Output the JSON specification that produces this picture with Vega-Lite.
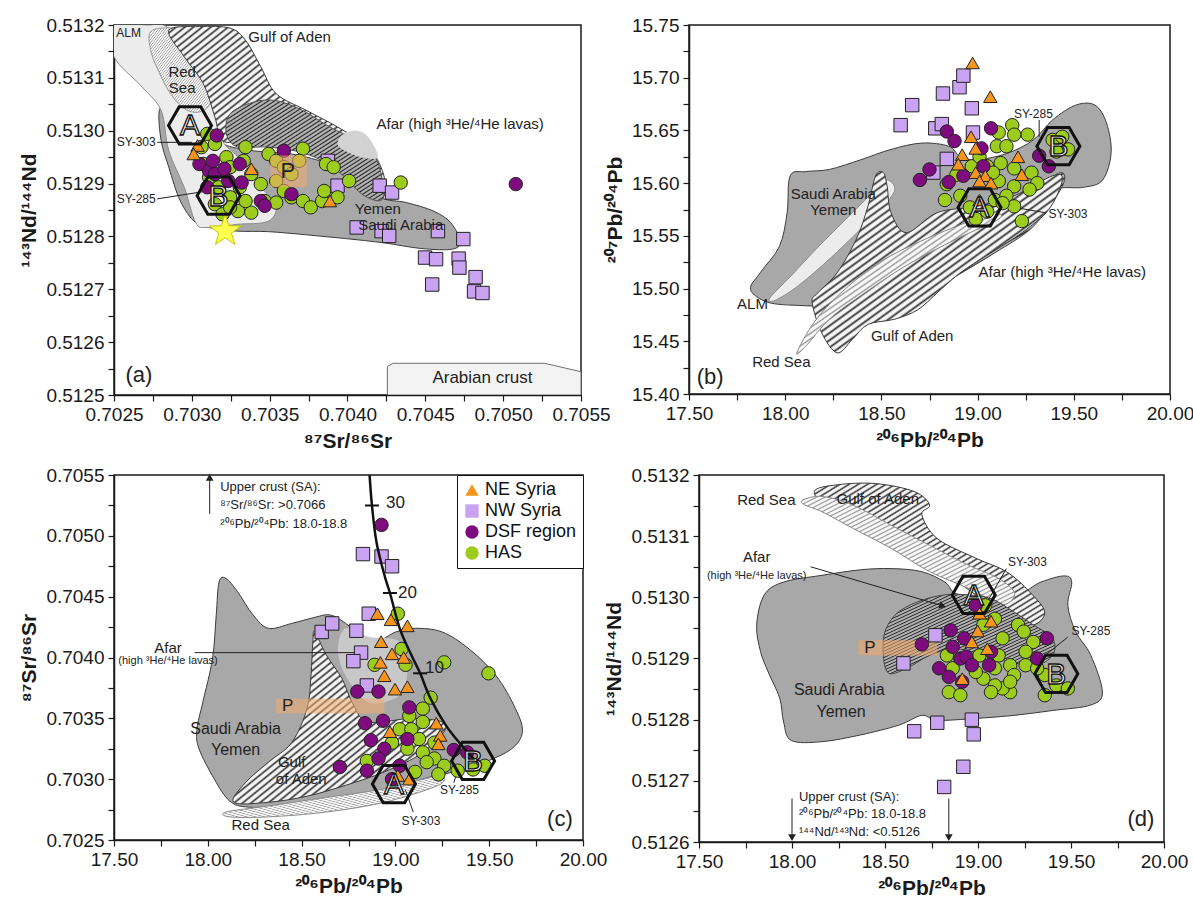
{
"$schema":"https://vega.github.io/schema/vega-lite/v6.json",
"background":"white",
"padding":{"left":18,"top":15,"right":5,"bottom":5},
"params":[
{"name":"hatchDark","value":{"gradient":"linear","x1":0,"y1":0,"x2":1,"y2":1,"stops":[{"offset":0,"color":"#333"},{"offset":0.006,"color":"#f4f4f4"},{"offset":0.014,"color":"#f4f4f4"},{"offset":0.02,"color":"#333"},{"offset":0.026,"color":"#f4f4f4"},{"offset":0.034,"color":"#f4f4f4"},{"offset":0.04,"color":"#333"},{"offset":0.046,"color":"#f4f4f4"},{"offset":0.054,"color":"#f4f4f4"},{"offset":0.06,"color":"#333"},{"offset":0.066,"color":"#f4f4f4"},{"offset":0.074,"color":"#f4f4f4"},{"offset":0.08,"color":"#333"},{"offset":0.086,"color":"#f4f4f4"},{"offset":0.094,"color":"#f4f4f4"},{"offset":0.1,"color":"#333"},{"offset":0.106,"color":"#f4f4f4"},{"offset":0.114,"color":"#f4f4f4"},{"offset":0.12,"color":"#333"},{"offset":0.126,"color":"#f4f4f4"},{"offset":0.134,"color":"#f4f4f4"},{"offset":0.14,"color":"#333"},{"offset":0.146,"color":"#f4f4f4"},{"offset":0.154,"color":"#f4f4f4"},{"offset":0.16,"color":"#333"},{"offset":0.166,"color":"#f4f4f4"},{"offset":0.174,"color":"#f4f4f4"},{"offset":0.18,"color":"#333"},{"offset":0.186,"color":"#f4f4f4"},{"offset":0.194,"color":"#f4f4f4"},{"offset":0.2,"color":"#333"},{"offset":0.206,"color":"#f4f4f4"},{"offset":0.214,"color":"#f4f4f4"},{"offset":0.22,"color":"#333"},{"offset":0.226,"color":"#f4f4f4"},{"offset":0.234,"color":"#f4f4f4"},{"offset":0.24,"color":"#333"},{"offset":0.246,"color":"#f4f4f4"},{"offset":0.254,"color":"#f4f4f4"},{"offset":0.26,"color":"#333"},{"offset":0.266,"color":"#f4f4f4"},{"offset":0.274,"color":"#f4f4f4"},{"offset":0.28,"color":"#333"},{"offset":0.286,"color":"#f4f4f4"},{"offset":0.294,"color":"#f4f4f4"},{"offset":0.3,"color":"#333"},{"offset":0.306,"color":"#f4f4f4"},{"offset":0.314,"color":"#f4f4f4"},{"offset":0.32,"color":"#333"},{"offset":0.326,"color":"#f4f4f4"},{"offset":0.334,"color":"#f4f4f4"},{"offset":0.34,"color":"#333"},{"offset":0.346,"color":"#f4f4f4"},{"offset":0.354,"color":"#f4f4f4"},{"offset":0.36,"color":"#333"},{"offset":0.366,"color":"#f4f4f4"},{"offset":0.374,"color":"#f4f4f4"},{"offset":0.38,"color":"#333"},{"offset":0.386,"color":"#f4f4f4"},{"offset":0.394,"color":"#f4f4f4"},{"offset":0.4,"color":"#333"},{"offset":0.406,"color":"#f4f4f4"},{"offset":0.414,"color":"#f4f4f4"},{"offset":0.42,"color":"#333"},{"offset":0.426,"color":"#f4f4f4"},{"offset":0.434,"color":"#f4f4f4"},{"offset":0.44,"color":"#333"},{"offset":0.446,"color":"#f4f4f4"},{"offset":0.454,"color":"#f4f4f4"},{"offset":0.46,"color":"#333"},{"offset":0.466,"color":"#f4f4f4"},{"offset":0.474,"color":"#f4f4f4"},{"offset":0.48,"color":"#333"},{"offset":0.486,"color":"#f4f4f4"},{"offset":0.494,"color":"#f4f4f4"},{"offset":0.5,"color":"#333"},{"offset":0.506,"color":"#f4f4f4"},{"offset":0.514,"color":"#f4f4f4"},{"offset":0.52,"color":"#333"},{"offset":0.526,"color":"#f4f4f4"},{"offset":0.534,"color":"#f4f4f4"},{"offset":0.54,"color":"#333"},{"offset":0.546,"color":"#f4f4f4"},{"offset":0.554,"color":"#f4f4f4"},{"offset":0.56,"color":"#333"},{"offset":0.566,"color":"#f4f4f4"},{"offset":0.574,"color":"#f4f4f4"},{"offset":0.58,"color":"#333"},{"offset":0.586,"color":"#f4f4f4"},{"offset":0.594,"color":"#f4f4f4"},{"offset":0.6,"color":"#333"},{"offset":0.606,"color":"#f4f4f4"},{"offset":0.614,"color":"#f4f4f4"},{"offset":0.62,"color":"#333"},{"offset":0.626,"color":"#f4f4f4"},{"offset":0.634,"color":"#f4f4f4"},{"offset":0.64,"color":"#333"},{"offset":0.646,"color":"#f4f4f4"},{"offset":0.654,"color":"#f4f4f4"},{"offset":0.66,"color":"#333"},{"offset":0.666,"color":"#f4f4f4"},{"offset":0.674,"color":"#f4f4f4"},{"offset":0.68,"color":"#333"},{"offset":0.686,"color":"#f4f4f4"},{"offset":0.694,"color":"#f4f4f4"},{"offset":0.7,"color":"#333"},{"offset":0.706,"color":"#f4f4f4"},{"offset":0.714,"color":"#f4f4f4"},{"offset":0.72,"color":"#333"},{"offset":0.726,"color":"#f4f4f4"},{"offset":0.734,"color":"#f4f4f4"},{"offset":0.74,"color":"#333"},{"offset":0.746,"color":"#f4f4f4"},{"offset":0.754,"color":"#f4f4f4"},{"offset":0.76,"color":"#333"},{"offset":0.766,"color":"#f4f4f4"},{"offset":0.774,"color":"#f4f4f4"},{"offset":0.78,"color":"#333"},{"offset":0.786,"color":"#f4f4f4"},{"offset":0.794,"color":"#f4f4f4"},{"offset":0.8,"color":"#333"},{"offset":0.806,"color":"#f4f4f4"},{"offset":0.814,"color":"#f4f4f4"},{"offset":0.82,"color":"#333"},{"offset":0.826,"color":"#f4f4f4"},{"offset":0.834,"color":"#f4f4f4"},{"offset":0.84,"color":"#333"},{"offset":0.846,"color":"#f4f4f4"},{"offset":0.854,"color":"#f4f4f4"},{"offset":0.86,"color":"#333"},{"offset":0.866,"color":"#f4f4f4"},{"offset":0.874,"color":"#f4f4f4"},{"offset":0.88,"color":"#333"},{"offset":0.886,"color":"#f4f4f4"},{"offset":0.894,"color":"#f4f4f4"},{"offset":0.9,"color":"#333"},{"offset":0.906,"color":"#f4f4f4"},{"offset":0.914,"color":"#f4f4f4"},{"offset":0.92,"color":"#333"},{"offset":0.926,"color":"#f4f4f4"},{"offset":0.934,"color":"#f4f4f4"},{"offset":0.94,"color":"#333"},{"offset":0.946,"color":"#f4f4f4"},{"offset":0.954,"color":"#f4f4f4"},{"offset":0.96,"color":"#333"},{"offset":0.966,"color":"#f4f4f4"},{"offset":0.974,"color":"#f4f4f4"},{"offset":0.98,"color":"#333"},{"offset":0.986,"color":"#f4f4f4"},{"offset":0.994,"color":"#f4f4f4"},{"offset":1,"color":"#333"}]}},
{"name":"hatchDarker","value":{"gradient":"linear","x1":0,"y1":0,"x2":1,"y2":1,"stops":[{"offset":0,"color":"#222"},{"offset":0.006,"color":"#b0b0b0"},{"offset":0.014,"color":"#b0b0b0"},{"offset":0.02,"color":"#222"},{"offset":0.026,"color":"#b0b0b0"},{"offset":0.034,"color":"#b0b0b0"},{"offset":0.04,"color":"#222"},{"offset":0.046,"color":"#b0b0b0"},{"offset":0.054,"color":"#b0b0b0"},{"offset":0.06,"color":"#222"},{"offset":0.066,"color":"#b0b0b0"},{"offset":0.074,"color":"#b0b0b0"},{"offset":0.08,"color":"#222"},{"offset":0.086,"color":"#b0b0b0"},{"offset":0.094,"color":"#b0b0b0"},{"offset":0.1,"color":"#222"},{"offset":0.106,"color":"#b0b0b0"},{"offset":0.114,"color":"#b0b0b0"},{"offset":0.12,"color":"#222"},{"offset":0.126,"color":"#b0b0b0"},{"offset":0.134,"color":"#b0b0b0"},{"offset":0.14,"color":"#222"},{"offset":0.146,"color":"#b0b0b0"},{"offset":0.154,"color":"#b0b0b0"},{"offset":0.16,"color":"#222"},{"offset":0.166,"color":"#b0b0b0"},{"offset":0.174,"color":"#b0b0b0"},{"offset":0.18,"color":"#222"},{"offset":0.186,"color":"#b0b0b0"},{"offset":0.194,"color":"#b0b0b0"},{"offset":0.2,"color":"#222"},{"offset":0.206,"color":"#b0b0b0"},{"offset":0.214,"color":"#b0b0b0"},{"offset":0.22,"color":"#222"},{"offset":0.226,"color":"#b0b0b0"},{"offset":0.234,"color":"#b0b0b0"},{"offset":0.24,"color":"#222"},{"offset":0.246,"color":"#b0b0b0"},{"offset":0.254,"color":"#b0b0b0"},{"offset":0.26,"color":"#222"},{"offset":0.266,"color":"#b0b0b0"},{"offset":0.274,"color":"#b0b0b0"},{"offset":0.28,"color":"#222"},{"offset":0.286,"color":"#b0b0b0"},{"offset":0.294,"color":"#b0b0b0"},{"offset":0.3,"color":"#222"},{"offset":0.306,"color":"#b0b0b0"},{"offset":0.314,"color":"#b0b0b0"},{"offset":0.32,"color":"#222"},{"offset":0.326,"color":"#b0b0b0"},{"offset":0.334,"color":"#b0b0b0"},{"offset":0.34,"color":"#222"},{"offset":0.346,"color":"#b0b0b0"},{"offset":0.354,"color":"#b0b0b0"},{"offset":0.36,"color":"#222"},{"offset":0.366,"color":"#b0b0b0"},{"offset":0.374,"color":"#b0b0b0"},{"offset":0.38,"color":"#222"},{"offset":0.386,"color":"#b0b0b0"},{"offset":0.394,"color":"#b0b0b0"},{"offset":0.4,"color":"#222"},{"offset":0.406,"color":"#b0b0b0"},{"offset":0.414,"color":"#b0b0b0"},{"offset":0.42,"color":"#222"},{"offset":0.426,"color":"#b0b0b0"},{"offset":0.434,"color":"#b0b0b0"},{"offset":0.44,"color":"#222"},{"offset":0.446,"color":"#b0b0b0"},{"offset":0.454,"color":"#b0b0b0"},{"offset":0.46,"color":"#222"},{"offset":0.466,"color":"#b0b0b0"},{"offset":0.474,"color":"#b0b0b0"},{"offset":0.48,"color":"#222"},{"offset":0.486,"color":"#b0b0b0"},{"offset":0.494,"color":"#b0b0b0"},{"offset":0.5,"color":"#222"},{"offset":0.506,"color":"#b0b0b0"},{"offset":0.514,"color":"#b0b0b0"},{"offset":0.52,"color":"#222"},{"offset":0.526,"color":"#b0b0b0"},{"offset":0.534,"color":"#b0b0b0"},{"offset":0.54,"color":"#222"},{"offset":0.546,"color":"#b0b0b0"},{"offset":0.554,"color":"#b0b0b0"},{"offset":0.56,"color":"#222"},{"offset":0.566,"color":"#b0b0b0"},{"offset":0.574,"color":"#b0b0b0"},{"offset":0.58,"color":"#222"},{"offset":0.586,"color":"#b0b0b0"},{"offset":0.594,"color":"#b0b0b0"},{"offset":0.6,"color":"#222"},{"offset":0.606,"color":"#b0b0b0"},{"offset":0.614,"color":"#b0b0b0"},{"offset":0.62,"color":"#222"},{"offset":0.626,"color":"#b0b0b0"},{"offset":0.634,"color":"#b0b0b0"},{"offset":0.64,"color":"#222"},{"offset":0.646,"color":"#b0b0b0"},{"offset":0.654,"color":"#b0b0b0"},{"offset":0.66,"color":"#222"},{"offset":0.666,"color":"#b0b0b0"},{"offset":0.674,"color":"#b0b0b0"},{"offset":0.68,"color":"#222"},{"offset":0.686,"color":"#b0b0b0"},{"offset":0.694,"color":"#b0b0b0"},{"offset":0.7,"color":"#222"},{"offset":0.706,"color":"#b0b0b0"},{"offset":0.714,"color":"#b0b0b0"},{"offset":0.72,"color":"#222"},{"offset":0.726,"color":"#b0b0b0"},{"offset":0.734,"color":"#b0b0b0"},{"offset":0.74,"color":"#222"},{"offset":0.746,"color":"#b0b0b0"},{"offset":0.754,"color":"#b0b0b0"},{"offset":0.76,"color":"#222"},{"offset":0.766,"color":"#b0b0b0"},{"offset":0.774,"color":"#b0b0b0"},{"offset":0.78,"color":"#222"},{"offset":0.786,"color":"#b0b0b0"},{"offset":0.794,"color":"#b0b0b0"},{"offset":0.8,"color":"#222"},{"offset":0.806,"color":"#b0b0b0"},{"offset":0.814,"color":"#b0b0b0"},{"offset":0.82,"color":"#222"},{"offset":0.826,"color":"#b0b0b0"},{"offset":0.834,"color":"#b0b0b0"},{"offset":0.84,"color":"#222"},{"offset":0.846,"color":"#b0b0b0"},{"offset":0.854,"color":"#b0b0b0"},{"offset":0.86,"color":"#222"},{"offset":0.866,"color":"#b0b0b0"},{"offset":0.874,"color":"#b0b0b0"},{"offset":0.88,"color":"#222"},{"offset":0.886,"color":"#b0b0b0"},{"offset":0.894,"color":"#b0b0b0"},{"offset":0.9,"color":"#222"},{"offset":0.906,"color":"#b0b0b0"},{"offset":0.914,"color":"#b0b0b0"},{"offset":0.92,"color":"#222"},{"offset":0.926,"color":"#b0b0b0"},{"offset":0.934,"color":"#b0b0b0"},{"offset":0.94,"color":"#222"},{"offset":0.946,"color":"#b0b0b0"},{"offset":0.954,"color":"#b0b0b0"},{"offset":0.96,"color":"#222"},{"offset":0.966,"color":"#b0b0b0"},{"offset":0.974,"color":"#b0b0b0"},{"offset":0.98,"color":"#222"},{"offset":0.986,"color":"#b0b0b0"},{"offset":0.994,"color":"#b0b0b0"},{"offset":1,"color":"#222"}]}},
{"name":"hatchLight","value":{"gradient":"linear","x1":0,"y1":0,"x2":1,"y2":1,"stops":[{"offset":0,"color":"#999"},{"offset":0.006,"color":"#f8f8f8"},{"offset":0.014,"color":"#f8f8f8"},{"offset":0.02,"color":"#999"},{"offset":0.026,"color":"#f8f8f8"},{"offset":0.034,"color":"#f8f8f8"},{"offset":0.04,"color":"#999"},{"offset":0.046,"color":"#f8f8f8"},{"offset":0.054,"color":"#f8f8f8"},{"offset":0.06,"color":"#999"},{"offset":0.066,"color":"#f8f8f8"},{"offset":0.074,"color":"#f8f8f8"},{"offset":0.08,"color":"#999"},{"offset":0.086,"color":"#f8f8f8"},{"offset":0.094,"color":"#f8f8f8"},{"offset":0.1,"color":"#999"},{"offset":0.106,"color":"#f8f8f8"},{"offset":0.114,"color":"#f8f8f8"},{"offset":0.12,"color":"#999"},{"offset":0.126,"color":"#f8f8f8"},{"offset":0.134,"color":"#f8f8f8"},{"offset":0.14,"color":"#999"},{"offset":0.146,"color":"#f8f8f8"},{"offset":0.154,"color":"#f8f8f8"},{"offset":0.16,"color":"#999"},{"offset":0.166,"color":"#f8f8f8"},{"offset":0.174,"color":"#f8f8f8"},{"offset":0.18,"color":"#999"},{"offset":0.186,"color":"#f8f8f8"},{"offset":0.194,"color":"#f8f8f8"},{"offset":0.2,"color":"#999"},{"offset":0.206,"color":"#f8f8f8"},{"offset":0.214,"color":"#f8f8f8"},{"offset":0.22,"color":"#999"},{"offset":0.226,"color":"#f8f8f8"},{"offset":0.234,"color":"#f8f8f8"},{"offset":0.24,"color":"#999"},{"offset":0.246,"color":"#f8f8f8"},{"offset":0.254,"color":"#f8f8f8"},{"offset":0.26,"color":"#999"},{"offset":0.266,"color":"#f8f8f8"},{"offset":0.274,"color":"#f8f8f8"},{"offset":0.28,"color":"#999"},{"offset":0.286,"color":"#f8f8f8"},{"offset":0.294,"color":"#f8f8f8"},{"offset":0.3,"color":"#999"},{"offset":0.306,"color":"#f8f8f8"},{"offset":0.314,"color":"#f8f8f8"},{"offset":0.32,"color":"#999"},{"offset":0.326,"color":"#f8f8f8"},{"offset":0.334,"color":"#f8f8f8"},{"offset":0.34,"color":"#999"},{"offset":0.346,"color":"#f8f8f8"},{"offset":0.354,"color":"#f8f8f8"},{"offset":0.36,"color":"#999"},{"offset":0.366,"color":"#f8f8f8"},{"offset":0.374,"color":"#f8f8f8"},{"offset":0.38,"color":"#999"},{"offset":0.386,"color":"#f8f8f8"},{"offset":0.394,"color":"#f8f8f8"},{"offset":0.4,"color":"#999"},{"offset":0.406,"color":"#f8f8f8"},{"offset":0.414,"color":"#f8f8f8"},{"offset":0.42,"color":"#999"},{"offset":0.426,"color":"#f8f8f8"},{"offset":0.434,"color":"#f8f8f8"},{"offset":0.44,"color":"#999"},{"offset":0.446,"color":"#f8f8f8"},{"offset":0.454,"color":"#f8f8f8"},{"offset":0.46,"color":"#999"},{"offset":0.466,"color":"#f8f8f8"},{"offset":0.474,"color":"#f8f8f8"},{"offset":0.48,"color":"#999"},{"offset":0.486,"color":"#f8f8f8"},{"offset":0.494,"color":"#f8f8f8"},{"offset":0.5,"color":"#999"},{"offset":0.506,"color":"#f8f8f8"},{"offset":0.514,"color":"#f8f8f8"},{"offset":0.52,"color":"#999"},{"offset":0.526,"color":"#f8f8f8"},{"offset":0.534,"color":"#f8f8f8"},{"offset":0.54,"color":"#999"},{"offset":0.546,"color":"#f8f8f8"},{"offset":0.554,"color":"#f8f8f8"},{"offset":0.56,"color":"#999"},{"offset":0.566,"color":"#f8f8f8"},{"offset":0.574,"color":"#f8f8f8"},{"offset":0.58,"color":"#999"},{"offset":0.586,"color":"#f8f8f8"},{"offset":0.594,"color":"#f8f8f8"},{"offset":0.6,"color":"#999"},{"offset":0.606,"color":"#f8f8f8"},{"offset":0.614,"color":"#f8f8f8"},{"offset":0.62,"color":"#999"},{"offset":0.626,"color":"#f8f8f8"},{"offset":0.634,"color":"#f8f8f8"},{"offset":0.64,"color":"#999"},{"offset":0.646,"color":"#f8f8f8"},{"offset":0.654,"color":"#f8f8f8"},{"offset":0.66,"color":"#999"},{"offset":0.666,"color":"#f8f8f8"},{"offset":0.674,"color":"#f8f8f8"},{"offset":0.68,"color":"#999"},{"offset":0.686,"color":"#f8f8f8"},{"offset":0.694,"color":"#f8f8f8"},{"offset":0.7,"color":"#999"},{"offset":0.706,"color":"#f8f8f8"},{"offset":0.714,"color":"#f8f8f8"},{"offset":0.72,"color":"#999"},{"offset":0.726,"color":"#f8f8f8"},{"offset":0.734,"color":"#f8f8f8"},{"offset":0.74,"color":"#999"},{"offset":0.746,"color":"#f8f8f8"},{"offset":0.754,"color":"#f8f8f8"},{"offset":0.76,"color":"#999"},{"offset":0.766,"color":"#f8f8f8"},{"offset":0.774,"color":"#f8f8f8"},{"offset":0.78,"color":"#999"},{"offset":0.786,"color":"#f8f8f8"},{"offset":0.794,"color":"#f8f8f8"},{"offset":0.8,"color":"#999"},{"offset":0.806,"color":"#f8f8f8"},{"offset":0.814,"color":"#f8f8f8"},{"offset":0.82,"color":"#999"},{"offset":0.826,"color":"#f8f8f8"},{"offset":0.834,"color":"#f8f8f8"},{"offset":0.84,"color":"#999"},{"offset":0.846,"color":"#f8f8f8"},{"offset":0.854,"color":"#f8f8f8"},{"offset":0.86,"color":"#999"},{"offset":0.866,"color":"#f8f8f8"},{"offset":0.874,"color":"#f8f8f8"},{"offset":0.88,"color":"#999"},{"offset":0.886,"color":"#f8f8f8"},{"offset":0.894,"color":"#f8f8f8"},{"offset":0.9,"color":"#999"},{"offset":0.906,"color":"#f8f8f8"},{"offset":0.914,"color":"#f8f8f8"},{"offset":0.92,"color":"#999"},{"offset":0.926,"color":"#f8f8f8"},{"offset":0.934,"color":"#f8f8f8"},{"offset":0.94,"color":"#999"},{"offset":0.946,"color":"#f8f8f8"},{"offset":0.954,"color":"#f8f8f8"},{"offset":0.96,"color":"#999"},{"offset":0.966,"color":"#f8f8f8"},{"offset":0.974,"color":"#f8f8f8"},{"offset":0.98,"color":"#999"},{"offset":0.986,"color":"#f8f8f8"},{"offset":0.994,"color":"#f8f8f8"},{"offset":1,"color":"#999"}]}}
],
"config":{
"font":"Liberation Sans",
"view":{"stroke":"#1a1a1a","strokeWidth":1.5},
"axis":{"labelFontSize":19,"titleFontSize":21,"titleFontWeight":"bold","labelColor":"#1a1a1a","titleColor":"#1a1a1a","domainColor":"#1a1a1a","domainWidth":1.5,"tickColor":"#1a1a1a","tickWidth":1.2,"tickSize":6,"labelFlush":false,"labelOverlap":false,"grid":false,"labelPadding":4,"titlePadding":6}
},
"datasets":{
"pa":[
{"f":"CR","i":0,"x":0.704256,"y":0.5125},{"f":"CR","i":1,"x":0.704256,"y":0.512554},{"f":"CR","i":2,"x":0.704293,"y":0.51256},{"f":"CR","i":3,"x":0.705266,"y":0.51256},{"f":"CR","i":4,"x":0.7055,"y":0.512544},{"f":"CR","i":5,"x":0.7055,"y":0.5125},
{"f":"Y","i":0,"x":0.702791,"y":0.513038},{"f":"Y","i":1,"x":0.702852,"y":0.513045},{"f":"Y","i":2,"x":0.702951,"y":0.513032},{"f":"Y","i":3,"x":0.703049,"y":0.513007},{"f":"Y","i":4,"x":0.703197,"y":0.512975},{"f":"Y","i":5,"x":0.703394,"y":0.512962},{"f":"Y","i":6,"x":0.70364,"y":0.512956},{"f":"Y","i":7,"x":0.703887,"y":0.512937},{"f":"Y","i":8,"x":0.704059,"y":0.512912},{"f":"Y","i":9,"x":0.704207,"y":0.512874},{"f":"Y","i":10,"x":0.704379,"y":0.512864},{"f":"Y","i":11,"x":0.704552,"y":0.512848},{"f":"Y","i":12,"x":0.704663,"y":0.512826},{"f":"Y","i":13,"x":0.704724,"y":0.512791},{"f":"Y","i":14,"x":0.704675,"y":0.512776},{"f":"Y","i":15,"x":0.704478,"y":0.512777},{"f":"Y","i":16,"x":0.704231,"y":0.512788},{"f":"Y","i":17,"x":0.703985,"y":0.512796},{"f":"Y","i":18,"x":0.703739,"y":0.512803},{"f":"Y","i":19,"x":0.703493,"y":0.512809},{"f":"Y","i":20,"x":0.703296,"y":0.51281},{"f":"Y","i":21,"x":0.703148,"y":0.512815},{"f":"Y","i":22,"x":0.703025,"y":0.512826},{"f":"Y","i":23,"x":0.702926,"y":0.512867},{"f":"Y","i":24,"x":0.702852,"y":0.512931},{"f":"Y","i":25,"x":0.702803,"y":0.512981},
{"f":"ALM","i":0,"x":0.7025,"y":0.5132},{"f":"ALM","i":1,"x":0.702704,"y":0.5132},{"f":"ALM","i":2,"x":0.702852,"y":0.513194},{"f":"ALM","i":3,"x":0.703049,"y":0.513121},{"f":"ALM","i":4,"x":0.703148,"y":0.513038},{"f":"ALM","i":5,"x":0.703197,"y":0.512981},{"f":"ALM","i":6,"x":0.703296,"y":0.51295},{"f":"ALM","i":7,"x":0.703443,"y":0.512893},{"f":"ALM","i":8,"x":0.703542,"y":0.512861},{"f":"ALM","i":9,"x":0.703493,"y":0.512829},{"f":"ALM","i":10,"x":0.703296,"y":0.512823},{"f":"ALM","i":11,"x":0.703099,"y":0.512817},{"f":"ALM","i":12,"x":0.703025,"y":0.512826},{"f":"ALM","i":13,"x":0.702951,"y":0.512893},{"f":"ALM","i":14,"x":0.702852,"y":0.512962},{"f":"ALM","i":15,"x":0.702803,"y":0.513038},{"f":"ALM","i":16,"x":0.70268,"y":0.513083},{"f":"ALM","i":17,"x":0.7025,"y":0.51314},
{"f":"RS","i":0,"x":0.702729,"y":0.513184},{"f":"RS","i":1,"x":0.702803,"y":0.513194},{"f":"RS","i":2,"x":0.702926,"y":0.51319},{"f":"RS","i":3,"x":0.703049,"y":0.513159},{"f":"RS","i":4,"x":0.703123,"y":0.513108},{"f":"RS","i":5,"x":0.703135,"y":0.513064},{"f":"RS","i":6,"x":0.703074,"y":0.513038},{"f":"RS","i":7,"x":0.702975,"y":0.513038},{"f":"RS","i":8,"x":0.702877,"y":0.513064},{"f":"RS","i":9,"x":0.702803,"y":0.513102},{"f":"RS","i":10,"x":0.702741,"y":0.513146},
{"f":"GA","i":0,"x":0.702852,"y":0.51319},{"f":"GA","i":1,"x":0.703049,"y":0.513197},{"f":"GA","i":2,"x":0.703246,"y":0.513194},{"f":"GA","i":3,"x":0.703345,"y":0.513171},{"f":"GA","i":4,"x":0.703443,"y":0.513121},{"f":"GA","i":5,"x":0.703542,"y":0.51307},{"f":"GA","i":6,"x":0.703739,"y":0.513038},{"f":"GA","i":7,"x":0.703936,"y":0.513007},{"f":"GA","i":8,"x":0.704133,"y":0.512969},{"f":"GA","i":9,"x":0.704231,"y":0.512918},{"f":"GA","i":10,"x":0.704231,"y":0.512874},{"f":"GA","i":11,"x":0.704133,"y":0.51288},{"f":"GA","i":12,"x":0.703985,"y":0.512931},{"f":"GA","i":13,"x":0.703788,"y":0.512969},{"f":"GA","i":14,"x":0.703542,"y":0.512981},{"f":"GA","i":15,"x":0.703345,"y":0.512981},{"f":"GA","i":16,"x":0.703197,"y":0.512981},{"f":"GA","i":17,"x":0.703148,"y":0.513026},{"f":"GA","i":18,"x":0.703074,"y":0.513089},{"f":"GA","i":19,"x":0.702951,"y":0.51314},
{"f":"AF","i":0,"x":0.703246,"y":0.513032},{"f":"AF","i":1,"x":0.703394,"y":0.513054},{"f":"AF","i":2,"x":0.703542,"y":0.513057},{"f":"AF","i":3,"x":0.703714,"y":0.513038},{"f":"AF","i":4,"x":0.703887,"y":0.513007},{"f":"AF","i":5,"x":0.704059,"y":0.512981},{"f":"AF","i":6,"x":0.704182,"y":0.51295},{"f":"AF","i":7,"x":0.704231,"y":0.512874},{"f":"AF","i":8,"x":0.704108,"y":0.512877},{"f":"AF","i":9,"x":0.703936,"y":0.512924},{"f":"AF","i":10,"x":0.703739,"y":0.512956},{"f":"AF","i":11,"x":0.703493,"y":0.512969},{"f":"AF","i":12,"x":0.703296,"y":0.512969},{"f":"AF","i":13,"x":0.703222,"y":0.512994},
{"f":"AL","i":0,"x":0.703936,"y":0.512975},{"f":"AL","i":1,"x":0.703973,"y":0.512994},{"f":"AL","i":2,"x":0.704059,"y":0.513},{"f":"AL","i":3,"x":0.704133,"y":0.512988},{"f":"AL","i":4,"x":0.704195,"y":0.51295},{"f":"AL","i":5,"x":0.704084,"y":0.51295},{"f":"AL","i":6,"x":0.703985,"y":0.512962}
],
"sa":[
{"g":"NW Syria","x":0.703874,"y":0.512943},{"g":"NW Syria","x":0.703936,"y":0.512896},{"g":"NW Syria","x":0.704207,"y":0.512896},{"g":"NW Syria","x":0.704286,"y":0.512883},{"g":"NW Syria","x":0.704059,"y":0.512817},{"g":"NW Syria","x":0.704219,"y":0.51281},{"g":"NW Syria","x":0.704268,"y":0.512801},{"g":"NW Syria","x":0.704581,"y":0.51281},{"g":"NW Syria","x":0.704744,"y":0.512795},{"g":"NW Syria","x":0.704498,"y":0.51276},{"g":"NW Syria","x":0.704569,"y":0.512757},{"g":"NW Syria","x":0.704544,"y":0.512709},{"g":"NW Syria","x":0.704714,"y":0.512758},{"g":"NW Syria","x":0.704719,"y":0.512741},{"g":"NW Syria","x":0.704823,"y":0.512723},{"g":"NW Syria","x":0.704813,"y":0.512696},{"g":"NW Syria","x":0.704867,"y":0.512693},
{"g":"HAS","x":0.703099,"y":0.512994},{"g":"HAS","x":0.703062,"y":0.512969},{"g":"HAS","x":0.703148,"y":0.512975},{"g":"HAS","x":0.703222,"y":0.51295},{"g":"HAS","x":0.703345,"y":0.512969},{"g":"HAS","x":0.703333,"y":0.512943},{"g":"HAS","x":0.703246,"y":0.512931},{"g":"HAS","x":0.703382,"y":0.512918},{"g":"HAS","x":0.703443,"y":0.512899},{"g":"HAS","x":0.703308,"y":0.512893},{"g":"HAS","x":0.703246,"y":0.512874},{"g":"HAS","x":0.703148,"y":0.512861},{"g":"HAS","x":0.703197,"y":0.512842},{"g":"HAS","x":0.703296,"y":0.512848},{"g":"HAS","x":0.703382,"y":0.512845},{"g":"HAS","x":0.703493,"y":0.512956},{"g":"HAS","x":0.703542,"y":0.512943},{"g":"HAS","x":0.703591,"y":0.512931},{"g":"HAS","x":0.70364,"y":0.512918},{"g":"HAS","x":0.703714,"y":0.512966},{"g":"HAS","x":0.70369,"y":0.512943},{"g":"HAS","x":0.703542,"y":0.512905},{"g":"HAS","x":0.703591,"y":0.512886},{"g":"HAS","x":0.70364,"y":0.512874},{"g":"HAS","x":0.703714,"y":0.512867},{"g":"HAS","x":0.703764,"y":0.512855},{"g":"HAS","x":0.703837,"y":0.512867},{"g":"HAS","x":0.70385,"y":0.512886},{"g":"HAS","x":0.703862,"y":0.512937},{"g":"HAS","x":0.703911,"y":0.512931},{"g":"HAS","x":0.703936,"y":0.512874},{"g":"HAS","x":0.70401,"y":0.512905},{"g":"HAS","x":0.704342,"y":0.512902},{"g":"HAS","x":0.703074,"y":0.512937},{"g":"HAS","x":0.703111,"y":0.512912},{"g":"HAS","x":0.703172,"y":0.512893},{"g":"HAS","x":0.703246,"y":0.512855},{"g":"HAS","x":0.703345,"y":0.512867},{"g":"HAS","x":0.703468,"y":0.512867},{"g":"HAS","x":0.703542,"y":0.512864},
{"g":"DSF region","x":0.70316,"y":0.512991},{"g":"DSF region","x":0.703049,"y":0.512937},{"g":"DSF region","x":0.703111,"y":0.512924},{"g":"DSF region","x":0.703148,"y":0.512918},{"g":"DSF region","x":0.703234,"y":0.512905},{"g":"DSF region","x":0.703308,"y":0.512937},{"g":"DSF region","x":0.70332,"y":0.512902},{"g":"DSF region","x":0.703099,"y":0.512893},{"g":"DSF region","x":0.703443,"y":0.512867},{"g":"DSF region","x":0.703468,"y":0.512858},{"g":"DSF region","x":0.703591,"y":0.512962},{"g":"DSF region","x":0.70364,"y":0.51288},{"g":"DSF region","x":0.705081,"y":0.512899},{"g":"DSF region","x":0.703135,"y":0.512943},{"g":"DSF region","x":0.703209,"y":0.512928},
{"g":"NE Syria","x":0.703037,"y":0.512972},{"g":"NE Syria","x":0.703012,"y":0.512956},{"g":"NE Syria","x":0.703382,"y":0.512928},{"g":"NE Syria","x":0.703887,"y":0.512867}
],
"ta":[
{"x":0.703628,"y":0.513178,"t":"Gulf of Aden","k":"f"},{"x":0.702938,"y":0.513111,"t":"Red","k":"f"},{"x":0.702938,"y":0.51308,"t":"Sea","k":"f"},{"x":0.704724,"y":0.513013,"t":"Afar (high ³He/⁴He lavas)","k":"f"},{"x":0.704195,"y":0.512852,"t":"Yemen","k":"f"},{"x":0.704342,"y":0.512822,"t":"Saudi Arabia","k":"f"},{"x":0.704867,"y":0.512532,"t":"Arabian crust","k":"m"},{"x":0.702594,"y":0.513184,"t":"ALM","k":"s"},{"x":0.702643,"y":0.512978,"t":"SY-303","k":"s"},{"x":0.702643,"y":0.512871,"t":"SY-285","k":"s"},{"x":0.70266,"y":0.512538,"t":"(a)","k":"p"},{"x":0.703616,"y":0.512923,"t":"P","k":"p"}
],
"la":[{"x":0.702778,"y":0.512978,"x2":0.703,"y2":0.512978},{"x":0.702778,"y":0.512871,"x2":0.703099,"y2":0.512886}],
"ra":[{"x":0.703505,"x2":0.703739,"y":0.512893,"y2":0.512953}],
"xa":[{"x":0.703214,"y":0.51281}],
"ha":[{"x":0.702988,"y":0.51301,"t":"A"},{"x":0.703172,"y":0.512877,"t":"B"}],
"pb":[
{"f":"Y","i":0,"x":17.82,"y":15.499},{"f":"Y","i":1,"x":17.87,"y":15.515},{"f":"Y","i":2,"x":17.97,"y":15.54},{"f":"Y","i":3,"x":18.01,"y":15.572},{"f":"Y","i":4,"x":18.026,"y":15.607},{"f":"Y","i":5,"x":18.11,"y":15.611},{"f":"Y","i":6,"x":18.23,"y":15.613},{"f":"Y","i":7,"x":18.39,"y":15.622},{"f":"Y","i":8,"x":18.55,"y":15.632},{"f":"Y","i":9,"x":18.71,"y":15.638},{"f":"Y","i":10,"x":18.85,"y":15.635},{"f":"Y","i":11,"x":18.91,"y":15.625},{"f":"Y","i":12,"x":18.99,"y":15.622},{"f":"Y","i":13,"x":19.15,"y":15.628},{"f":"Y","i":14,"x":19.29,"y":15.641},{"f":"Y","i":15,"x":19.39,"y":15.66},{"f":"Y","i":16,"x":19.51,"y":15.674},{"f":"Y","i":17,"x":19.61,"y":15.674},{"f":"Y","i":18,"x":19.67,"y":15.657},{"f":"Y","i":19,"x":19.694,"y":15.629},{"f":"Y","i":20,"x":19.65,"y":15.603},{"f":"Y","i":21,"x":19.55,"y":15.596},{"f":"Y","i":22,"x":19.39,"y":15.594},{"f":"Y","i":23,"x":19.19,"y":15.575},{"f":"Y","i":24,"x":18.99,"y":15.553},{"f":"Y","i":25,"x":18.79,"y":15.531},{"f":"Y","i":26,"x":18.59,"y":15.506},{"f":"Y","i":27,"x":18.39,"y":15.49},{"f":"Y","i":28,"x":18.23,"y":15.484},{"f":"Y","i":29,"x":18.07,"y":15.484},{"f":"Y","i":30,"x":17.91,"y":15.487},
{"f":"ALM","i":0,"x":17.92,"y":15.491},{"f":"ALM","i":1,"x":18.03,"y":15.512},{"f":"ALM","i":2,"x":18.19,"y":15.543},{"f":"ALM","i":3,"x":18.35,"y":15.572},{"f":"ALM","i":4,"x":18.47,"y":15.594},{"f":"ALM","i":5,"x":18.53,"y":15.603},{"f":"ALM","i":6,"x":18.57,"y":15.594},{"f":"ALM","i":7,"x":18.51,"y":15.578},{"f":"ALM","i":8,"x":18.39,"y":15.556},{"f":"ALM","i":9,"x":18.23,"y":15.528},{"f":"ALM","i":10,"x":18.07,"y":15.503},{"f":"ALM","i":11,"x":17.95,"y":15.489},
{"f":"AF","i":0,"x":18.15,"y":15.482},{"f":"AF","i":1,"x":18.39,"y":15.482},{"f":"AF","i":2,"x":18.69,"y":15.49},{"f":"AF","i":3,"x":18.89,"y":15.512},{"f":"AF","i":4,"x":19.09,"y":15.534},{"f":"AF","i":5,"x":19.29,"y":15.559},{"f":"AF","i":6,"x":19.44,"y":15.597},{"f":"AF","i":7,"x":19.43,"y":15.61},{"f":"AF","i":8,"x":19.29,"y":15.594},{"f":"AF","i":9,"x":18.99,"y":15.572},{"f":"AF","i":10,"x":18.69,"y":15.547},{"f":"AF","i":11,"x":18.39,"y":15.512},{"f":"AF","i":12,"x":18.23,"y":15.496},
{"f":"GA","i":0,"x":18.14,"y":15.487},{"f":"GA","i":1,"x":18.19,"y":15.458},{"f":"GA","i":2,"x":18.27,"y":15.439},{"f":"GA","i":3,"x":18.35,"y":15.452},{"f":"GA","i":4,"x":18.43,"y":15.466},{"f":"GA","i":5,"x":18.57,"y":15.471},{"f":"GA","i":6,"x":18.69,"y":15.48},{"f":"GA","i":7,"x":18.79,"y":15.496},{"f":"GA","i":8,"x":18.91,"y":15.515},{"f":"GA","i":9,"x":19.07,"y":15.534},{"f":"GA","i":10,"x":19.23,"y":15.553},{"f":"GA","i":11,"x":19.37,"y":15.575},{"f":"GA","i":12,"x":19.44,"y":15.603},{"f":"GA","i":13,"x":19.39,"y":15.607},{"f":"GA","i":14,"x":19.19,"y":15.588},{"f":"GA","i":15,"x":18.99,"y":15.578},{"f":"GA","i":16,"x":18.79,"y":15.572},{"f":"GA","i":17,"x":18.63,"y":15.553},{"f":"GA","i":18,"x":18.55,"y":15.572},{"f":"GA","i":19,"x":18.53,"y":15.597},{"f":"GA","i":20,"x":18.51,"y":15.61},{"f":"GA","i":21,"x":18.47,"y":15.607},{"f":"GA","i":22,"x":18.43,"y":15.578},{"f":"GA","i":23,"x":18.37,"y":15.547},{"f":"GA","i":24,"x":18.27,"y":15.515},{"f":"GA","i":25,"x":18.17,"y":15.496},
{"f":"RS","i":0,"x":18.06,"y":15.439},{"f":"RS","i":1,"x":18.15,"y":15.468},{"f":"RS","i":2,"x":18.29,"y":15.496},{"f":"RS","i":3,"x":18.49,"y":15.525},{"f":"RS","i":4,"x":18.73,"y":15.547},{"f":"RS","i":5,"x":18.99,"y":15.566},{"f":"RS","i":6,"x":19.09,"y":15.572},{"f":"RS","i":7,"x":19.11,"y":15.566},{"f":"RS","i":8,"x":18.89,"y":15.547},{"f":"RS","i":9,"x":18.63,"y":15.522},{"f":"RS","i":10,"x":18.39,"y":15.493},{"f":"RS","i":11,"x":18.23,"y":15.471},{"f":"RS","i":12,"x":18.11,"y":15.446}
],
"sb":[
{"g":"NW Syria","x":18.6,"y":15.655},{"g":"NW Syria","x":18.66,"y":15.674},{"g":"NW Syria","x":18.82,"y":15.685},{"g":"NW Syria","x":18.906,"y":15.691},{"g":"NW Syria","x":18.926,"y":15.702},{"g":"NW Syria","x":18.97,"y":15.671},{"g":"NW Syria","x":18.78,"y":15.652},{"g":"NW Syria","x":18.814,"y":15.656},{"g":"NW Syria","x":18.976,"y":15.648},{"g":"NW Syria","x":18.84,"y":15.623},{"g":"NW Syria","x":18.77,"y":15.61},
{"g":"HAS","x":19.18,"y":15.655},{"g":"HAS","x":19.26,"y":15.646},{"g":"HAS","x":19.19,"y":15.646},{"g":"HAS","x":19.11,"y":15.648},{"g":"HAS","x":19.1,"y":15.635},{"g":"HAS","x":19.15,"y":15.635},{"g":"HAS","x":19.12,"y":15.619},{"g":"HAS","x":19.19,"y":15.614},{"g":"HAS","x":19.28,"y":15.61},{"g":"HAS","x":19.31,"y":15.6},{"g":"HAS","x":19.27,"y":15.594},{"g":"HAS","x":19.19,"y":15.597},{"g":"HAS","x":19.11,"y":15.602},{"g":"HAS","x":19.05,"y":15.616},{"g":"HAS","x":18.97,"y":15.616},{"g":"HAS","x":18.89,"y":15.608},{"g":"HAS","x":18.84,"y":15.599},{"g":"HAS","x":18.83,"y":15.584},{"g":"HAS","x":18.91,"y":15.588},{"g":"HAS","x":18.96,"y":15.577},{"g":"HAS","x":18.99,"y":15.566},{"g":"HAS","x":19.05,"y":15.573},{"g":"HAS","x":19.09,"y":15.584},{"g":"HAS","x":19.15,"y":15.588},{"g":"HAS","x":19.23,"y":15.564},{"g":"HAS","x":19.19,"y":15.578},{"g":"HAS","x":19.39,"y":15.641},{"g":"HAS","x":19.44,"y":15.644},{"g":"HAS","x":19.47,"y":15.632},{"g":"HAS","x":19.41,"y":15.63},{"g":"HAS","x":19.01,"y":15.625},{"g":"HAS","x":19.08,"y":15.61},{"g":"HAS","x":19.13,"y":15.581},
{"g":"DSF region","x":18.84,"y":15.649},{"g":"DSF region","x":19.07,"y":15.652},{"g":"DSF region","x":18.88,"y":15.64},{"g":"DSF region","x":18.7,"y":15.603},{"g":"DSF region","x":18.75,"y":15.613},{"g":"DSF region","x":18.85,"y":15.601},{"g":"DSF region","x":18.926,"y":15.607},{"g":"DSF region","x":19.03,"y":15.616},{"g":"DSF region","x":19.32,"y":15.626},{"g":"DSF region","x":19.37,"y":15.616},{"g":"DSF region","x":19.02,"y":15.633},
{"g":"NE Syria","x":18.974,"y":15.714},{"g":"NE Syria","x":19.066,"y":15.682},{"g":"NE Syria","x":18.966,"y":15.644},{"g":"NE Syria","x":18.99,"y":15.633},{"g":"NE Syria","x":18.92,"y":15.627},{"g":"NE Syria","x":18.9,"y":15.618},{"g":"NE Syria","x":18.99,"y":15.61},{"g":"NE Syria","x":19.04,"y":15.607},{"g":"NE Syria","x":19.01,"y":15.602},{"g":"NE Syria","x":19.07,"y":15.6},{"g":"NE Syria","x":19.21,"y":15.625},{"g":"NE Syria","x":19.23,"y":15.608},{"g":"NE Syria","x":19.01,"y":15.584}
],
"tb":[
{"x":19.29,"y":15.666,"t":"SY-285","k":"s"},{"x":19.47,"y":15.571,"t":"SY-303","k":"s"},{"x":18.25,"y":15.59,"t":"Saudi Arabia","k":"f"},{"x":18.25,"y":15.575,"t":"Yemen","k":"f"},{"x":19.44,"y":15.516,"t":"Afar (high ³He/⁴He lavas)","k":"f"},{"x":17.83,"y":15.485,"t":"ALM","k":"f"},{"x":18.66,"y":15.455,"t":"Gulf of Aden","k":"f"},{"x":17.98,"y":15.43,"t":"Red Sea","k":"f"},{"x":17.61,"y":15.416,"t":"(b)","k":"p"}
],
"lb":[{"x":19.32,"y":15.66,"x2":19.32,"y2":15.644},{"x":19.35,"y":15.572,"x2":19.19,"y2":15.577}],
"hb":[{"x":19.01,"y":15.577,"t":"A"},{"x":19.42,"y":15.635,"t":"B"}],
"pc":[
{"f":"Y","i":0,"x":17.953,"y":0.70325},{"f":"Y","i":1,"x":17.942,"y":0.70341},{"f":"Y","i":2,"x":17.973,"y":0.70363},{"f":"Y","i":3,"x":18.025,"y":0.70399},{"f":"Y","i":4,"x":18.045,"y":0.70435},{"f":"Y","i":5,"x":18.06,"y":0.70462},{"f":"Y","i":6,"x":18.097,"y":0.70465},{"f":"Y","i":7,"x":18.159,"y":0.70454},{"f":"Y","i":8,"x":18.241,"y":0.70435},{"f":"Y","i":9,"x":18.323,"y":0.70424},{"f":"Y","i":10,"x":18.447,"y":0.70428},{"f":"Y","i":11,"x":18.57,"y":0.70433},{"f":"Y","i":12,"x":18.653,"y":0.70435},{"f":"Y","i":13,"x":18.735,"y":0.70428},{"f":"Y","i":14,"x":18.817,"y":0.70418},{"f":"Y","i":15,"x":18.899,"y":0.70413},{"f":"Y","i":16,"x":19.002,"y":0.70421},{"f":"Y","i":17,"x":19.105,"y":0.70424},{"f":"Y","i":18,"x":19.249,"y":0.70421},{"f":"Y","i":19,"x":19.393,"y":0.70407},{"f":"Y","i":20,"x":19.537,"y":0.70385},{"f":"Y","i":21,"x":19.64,"y":0.70358},{"f":"Y","i":22,"x":19.677,"y":0.70339},{"f":"Y","i":23,"x":19.62,"y":0.70325},{"f":"Y","i":24,"x":19.476,"y":0.70314},{"f":"Y","i":25,"x":19.311,"y":0.70306},{"f":"Y","i":26,"x":19.146,"y":0.703},{"f":"Y","i":27,"x":18.941,"y":0.70286},{"f":"Y","i":28,"x":18.694,"y":0.70281},{"f":"Y","i":29,"x":18.447,"y":0.70278},{"f":"Y","i":30,"x":18.22,"y":0.70277},{"f":"Y","i":31,"x":18.117,"y":0.70282},{"f":"Y","i":32,"x":18.035,"y":0.703},
{"f":"AL","i":0,"x":18.735,"y":0.70424},{"f":"AL","i":1,"x":18.858,"y":0.70417},{"f":"AL","i":2,"x":19.023,"y":0.70413},{"f":"AL","i":3,"x":19.064,"y":0.70391},{"f":"AL","i":4,"x":19.023,"y":0.70369},{"f":"AL","i":5,"x":18.858,"y":0.70363},{"f":"AL","i":6,"x":18.735,"y":0.70385},{"f":"AL","i":7,"x":18.694,"y":0.70407},
{"f":"GA","i":0,"x":18.57,"y":0.70421},{"f":"GA","i":1,"x":18.632,"y":0.70402},{"f":"GA","i":2,"x":18.714,"y":0.70383},{"f":"GA","i":3,"x":18.776,"y":0.70361},{"f":"GA","i":4,"x":18.858,"y":0.70347},{"f":"GA","i":5,"x":19.105,"y":0.7035},{"f":"GA","i":6,"x":19.27,"y":0.70344},{"f":"GA","i":7,"x":19.146,"y":0.70322},{"f":"GA","i":8,"x":18.941,"y":0.70306},{"f":"GA","i":9,"x":18.735,"y":0.70295},{"f":"GA","i":10,"x":18.529,"y":0.70286},{"f":"GA","i":11,"x":18.323,"y":0.70281},{"f":"GA","i":12,"x":18.138,"y":0.70281},{"f":"GA","i":13,"x":18.2,"y":0.70297},{"f":"GA","i":14,"x":18.323,"y":0.70314},{"f":"GA","i":15,"x":18.447,"y":0.7033},{"f":"GA","i":16,"x":18.529,"y":0.70358},{"f":"GA","i":17,"x":18.55,"y":0.70385},{"f":"GA","i":18,"x":18.56,"y":0.70413},
{"f":"RS","i":0,"x":18.097,"y":0.70273},{"f":"RS","i":1,"x":18.323,"y":0.70278},{"f":"RS","i":2,"x":18.632,"y":0.70285},{"f":"RS","i":3,"x":18.941,"y":0.70292},{"f":"RS","i":4,"x":19.146,"y":0.703},{"f":"RS","i":5,"x":19.249,"y":0.70303},{"f":"RS","i":6,"x":19.229,"y":0.70295},{"f":"RS","i":7,"x":18.941,"y":0.70281},{"f":"RS","i":8,"x":18.632,"y":0.70273},{"f":"RS","i":9,"x":18.323,"y":0.70269},{"f":"RS","i":10,"x":18.117,"y":0.70269}
],
"sc":[
{"g":"NW Syria","x":18.827,"y":0.70485},{"g":"NW Syria","x":18.926,"y":0.70483},{"g":"NW Syria","x":18.982,"y":0.70475},{"g":"NW Syria","x":18.607,"y":0.70421},{"g":"NW Syria","x":18.663,"y":0.70428},{"g":"NW Syria","x":18.792,"y":0.70422},{"g":"NW Syria","x":18.817,"y":0.70404},{"g":"NW Syria","x":18.776,"y":0.70397},{"g":"NW Syria","x":18.848,"y":0.70377},{"g":"NW Syria","x":18.858,"y":0.70436},
{"g":"HAS","x":19.013,"y":0.70436},{"g":"HAS","x":19.033,"y":0.70407},{"g":"HAS","x":19.054,"y":0.70394},{"g":"HAS","x":19.26,"y":0.70396},{"g":"HAS","x":19.496,"y":0.70387},{"g":"HAS","x":19.188,"y":0.70367},{"g":"HAS","x":19.146,"y":0.70358},{"g":"HAS","x":19.074,"y":0.70352},{"g":"HAS","x":19.023,"y":0.70341},{"g":"HAS","x":19.085,"y":0.70341},{"g":"HAS","x":19.126,"y":0.70333},{"g":"HAS","x":19.146,"y":0.70322},{"g":"HAS","x":19.208,"y":0.70317},{"g":"HAS","x":19.26,"y":0.70311},{"g":"HAS","x":19.229,"y":0.70304},{"g":"HAS","x":19.167,"y":0.70314},{"g":"HAS","x":19.064,"y":0.70325},{"g":"HAS","x":18.982,"y":0.7033},{"g":"HAS","x":18.848,"y":0.70315},{"g":"HAS","x":19.105,"y":0.70306},{"g":"HAS","x":19.332,"y":0.70307},{"g":"HAS","x":19.414,"y":0.70308},{"g":"HAS","x":19.476,"y":0.70311},{"g":"HAS","x":19.146,"y":0.70347},{"g":"HAS","x":19.208,"y":0.7033},{"g":"HAS","x":18.889,"y":0.70394},
{"g":"DSF region","x":18.926,"y":0.70509},{"g":"DSF region","x":18.797,"y":0.70372},{"g":"DSF region","x":18.91,"y":0.70372},{"g":"DSF region","x":19.074,"y":0.70359},{"g":"DSF region","x":18.838,"y":0.70346},{"g":"DSF region","x":18.934,"y":0.70348},{"g":"DSF region","x":18.869,"y":0.70332},{"g":"DSF region","x":18.941,"y":0.70325},{"g":"DSF region","x":19.064,"y":0.70333},{"g":"DSF region","x":18.704,"y":0.7031},{"g":"DSF region","x":18.848,"y":0.70307},{"g":"DSF region","x":18.91,"y":0.70317},{"g":"DSF region","x":18.982,"y":0.703},{"g":"DSF region","x":19.311,"y":0.70324},{"g":"DSF region","x":19.383,"y":0.70322},{"g":"DSF region","x":19.023,"y":0.70311},
{"g":"NE Syria","x":18.904,"y":0.70436},{"g":"NE Syria","x":18.976,"y":0.70431},{"g":"NE Syria","x":19.064,"y":0.70426},{"g":"NE Syria","x":18.924,"y":0.70413},{"g":"NE Syria","x":18.982,"y":0.70403},{"g":"NE Syria","x":18.92,"y":0.70396},{"g":"NE Syria","x":19.044,"y":0.704},{"g":"NE Syria","x":18.941,"y":0.70385},{"g":"NE Syria","x":18.998,"y":0.70374},{"g":"NE Syria","x":19.064,"y":0.70376},{"g":"NE Syria","x":19.218,"y":0.70346},{"g":"NE Syria","x":19.239,"y":0.70336},{"g":"NE Syria","x":19.229,"y":0.70329},{"g":"NE Syria","x":18.971,"y":0.70339},{"g":"NE Syria","x":19.013,"y":0.70303},{"g":"NE Syria","x":19.074,"y":0.703}
],
"tc":[
{"x":19.0,"y":0.70527,"t":"30","k":"m"},{"x":19.064,"y":0.70453,"t":"20","k":"m"},{"x":19.208,"y":0.70391,"t":"10","k":"m"},{"x":17.788,"y":0.70408,"t":"Afar","k":"f"},{"x":17.788,"y":0.70397,"t":"(high ³He/⁴He lavas)","k":"h"},{"x":18.426,"y":0.7036,"t":"P","k":"m"},{"x":18.148,"y":0.70341,"t":"Saudi Arabia","k":"g"},{"x":18.148,"y":0.70324,"t":"Yemen","k":"g"},{"x":18.447,"y":0.70314,"t":"Gulf","k":"f"},{"x":18.498,"y":0.703,"t":"of Aden","k":"f"},{"x":18.282,"y":0.70262,"t":"Red Sea","k":"f"},{"x":19.342,"y":0.70291,"t":"SY-285","k":"s"},{"x":19.136,"y":0.70266,"t":"SY-303","k":"s"},{"x":19.877,"y":0.70267,"t":"(c)","k":"p"},
{"x":18.066,"y":0.7054,"t":"Upper crust (SA):","k":"n"},{"x":18.066,"y":0.70525,"t":"⁸⁷Sr/⁸⁶Sr: >0.7066","k":"n"},{"x":18.066,"y":0.7051,"t":"²⁰⁶Pb/²⁰⁴Pb: 18.0-18.8","k":"n"}
],
"lc":[{"x":19.095,"y":0.70273,"x2":19.054,"y2":0.70291},{"x":19.311,"y":0.70297,"x2":19.332,"y2":0.70307},{"x":17.93,"y":0.70404,"x2":18.8,"y2":0.70404},{"x":18.01,"y":0.70518,"x2":18.01,"y2":0.70546}],
"ac":[{"x":18.01,"y":0.70548,"d":"up"},{"x":18.815,"y":0.70404,"d":"right"}],
"rc":[{"x":18.364,"x2":18.941,"y":0.70354,"y2":0.70366}],
"cc":[{"i":0,"x":18.862,"y":0.70551},{"i":1,"x":18.875,"y":0.70525},{"i":2,"x":18.899,"y":0.70495},{"i":3,"x":18.941,"y":0.70468},{"i":4,"x":18.971,"y":0.70453},{"i":5,"x":19.023,"y":0.70424},{"i":6,"x":19.085,"y":0.70402},{"i":7,"x":19.132,"y":0.70387},{"i":8,"x":19.188,"y":0.70366},{"i":9,"x":19.27,"y":0.70344},{"i":10,"x":19.352,"y":0.70328},{"i":11,"x":19.435,"y":0.70314}],
"ct":[{"x":18.875,"y":0.70525},{"x":18.971,"y":0.70453},{"x":19.132,"y":0.70387}],
"hc":[{"x":18.992,"y":0.70296,"t":"A"},{"x":19.414,"y":0.70315,"t":"B"}],
"pd":[
{"f":"Y","i":0,"x":17.851,"y":0.513004},{"f":"Y","i":1,"x":17.955,"y":0.513025},{"f":"Y","i":2,"x":18.161,"y":0.513036},{"f":"Y","i":3,"x":18.368,"y":0.513045},{"f":"Y","i":4,"x":18.533,"y":0.513047},{"f":"Y","i":5,"x":18.698,"y":0.513042},{"f":"Y","i":6,"x":18.822,"y":0.513025},{"f":"Y","i":7,"x":18.905,"y":0.513004},{"f":"Y","i":8,"x":19.194,"y":0.513004},{"f":"Y","i":9,"x":19.339,"y":0.513025},{"f":"Y","i":10,"x":19.463,"y":0.513035},{"f":"Y","i":11,"x":19.504,"y":0.513025},{"f":"Y","i":12,"x":19.483,"y":0.512987},{"f":"Y","i":13,"x":19.525,"y":0.512944},{"f":"Y","i":14,"x":19.607,"y":0.512905},{"f":"Y","i":15,"x":19.669,"y":0.512845},{"f":"Y","i":16,"x":19.607,"y":0.512824},{"f":"Y","i":17,"x":19.401,"y":0.512815},{"f":"Y","i":18,"x":19.194,"y":0.512807},{"f":"Y","i":19,"x":18.988,"y":0.512802},{"f":"Y","i":20,"x":18.781,"y":0.512799},{"f":"Y","i":21,"x":18.698,"y":0.512807},{"f":"Y","i":22,"x":18.574,"y":0.512791},{"f":"Y","i":23,"x":18.368,"y":0.512775},{"f":"Y","i":24,"x":18.161,"y":0.512764},{"f":"Y","i":25,"x":17.996,"y":0.512766},{"f":"Y","i":26,"x":17.955,"y":0.512796},{"f":"Y","i":27,"x":17.934,"y":0.512835},{"f":"Y","i":28,"x":17.872,"y":0.512878},{"f":"Y","i":29,"x":17.831,"y":0.512911},{"f":"Y","i":30,"x":17.81,"y":0.512955},
{"f":"GA","i":0,"x":18.12,"y":0.513173},{"f":"GA","i":1,"x":18.244,"y":0.513184},{"f":"GA","i":2,"x":18.45,"y":0.513186},{"f":"GA","i":3,"x":18.657,"y":0.513173},{"f":"GA","i":4,"x":18.74,"y":0.513151},{"f":"GA","i":5,"x":18.698,"y":0.513135},{"f":"GA","i":6,"x":18.781,"y":0.513096},{"f":"GA","i":7,"x":18.988,"y":0.513064},{"f":"GA","i":8,"x":19.153,"y":0.513042},{"f":"GA","i":9,"x":19.277,"y":0.513009},{"f":"GA","i":10,"x":19.359,"y":0.512976},{"f":"GA","i":11,"x":19.297,"y":0.512955},{"f":"GA","i":12,"x":19.194,"y":0.512971},{"f":"GA","i":13,"x":19.111,"y":0.512982},{"f":"GA","i":14,"x":18.988,"y":0.513004},{"f":"GA","i":15,"x":18.843,"y":0.513036},{"f":"GA","i":16,"x":18.698,"y":0.513064},{"f":"GA","i":17,"x":18.574,"y":0.513085},{"f":"GA","i":18,"x":18.326,"y":0.513118},{"f":"GA","i":19,"x":18.202,"y":0.51314},
{"f":"RS","i":0,"x":18.058,"y":0.513159},{"f":"RS","i":1,"x":18.161,"y":0.513165},{"f":"RS","i":2,"x":18.326,"y":0.513151},{"f":"RS","i":3,"x":18.533,"y":0.513118},{"f":"RS","i":4,"x":18.74,"y":0.513085},{"f":"RS","i":5,"x":18.946,"y":0.513053},{"f":"RS","i":6,"x":19.111,"y":0.513031},{"f":"RS","i":7,"x":19.194,"y":0.513009},{"f":"RS","i":8,"x":19.173,"y":0.512993},{"f":"RS","i":9,"x":19.111,"y":0.51299},{"f":"RS","i":10,"x":18.946,"y":0.513015},{"f":"RS","i":11,"x":18.74,"y":0.513042},{"f":"RS","i":12,"x":18.533,"y":0.51308},{"f":"RS","i":13,"x":18.326,"y":0.513113},{"f":"RS","i":14,"x":18.161,"y":0.51314},{"f":"RS","i":15,"x":18.068,"y":0.513151},
{"f":"AF","i":0,"x":18.512,"y":0.512878},{"f":"AF","i":1,"x":18.492,"y":0.512933},{"f":"AF","i":2,"x":18.554,"y":0.512971},{"f":"AF","i":3,"x":18.678,"y":0.512993},{"f":"AF","i":4,"x":18.822,"y":0.513004},{"f":"AF","i":5,"x":18.946,"y":0.513004},{"f":"AF","i":6,"x":19.07,"y":0.512998},{"f":"AF","i":7,"x":19.194,"y":0.512976},{"f":"AF","i":8,"x":19.297,"y":0.512955},{"f":"AF","i":9,"x":19.401,"y":0.512933},{"f":"AF","i":10,"x":19.401,"y":0.512905},{"f":"AF","i":11,"x":19.297,"y":0.512889},{"f":"AF","i":12,"x":19.091,"y":0.5129},{"f":"AF","i":13,"x":18.884,"y":0.512916},{"f":"AF","i":14,"x":18.74,"y":0.512905},{"f":"AF","i":15,"x":18.616,"y":0.512884}
],
"sd":[
{"g":"NW Syria","x":18.771,"y":0.512938},{"g":"NW Syria","x":18.599,"y":0.512892},{"g":"NW Syria","x":18.657,"y":0.512781},{"g":"NW Syria","x":18.781,"y":0.512795},{"g":"NW Syria","x":18.967,"y":0.5128},{"g":"NW Syria","x":18.977,"y":0.512776},{"g":"NW Syria","x":18.921,"y":0.512723},{"g":"NW Syria","x":18.818,"y":0.51269},
{"g":"HAS","x":19.039,"y":0.512987},{"g":"HAS","x":19.091,"y":0.512965},{"g":"HAS","x":19.029,"y":0.512955},{"g":"HAS","x":19.215,"y":0.512955},{"g":"HAS","x":19.246,"y":0.512944},{"g":"HAS","x":19.297,"y":0.512927},{"g":"HAS","x":19.256,"y":0.512911},{"g":"HAS","x":19.132,"y":0.512933},{"g":"HAS","x":19.111,"y":0.512905},{"g":"HAS","x":19.173,"y":0.512889},{"g":"HAS","x":19.194,"y":0.512873},{"g":"HAS","x":19.256,"y":0.512889},{"g":"HAS","x":19.359,"y":0.512873},{"g":"HAS","x":19.421,"y":0.512856},{"g":"HAS","x":19.483,"y":0.512851},{"g":"HAS","x":19.359,"y":0.51284},{"g":"HAS","x":19.173,"y":0.512845},{"g":"HAS","x":19.132,"y":0.512851},{"g":"HAS","x":19.091,"y":0.512856},{"g":"HAS","x":19.07,"y":0.512845},{"g":"HAS","x":19.029,"y":0.512867},{"g":"HAS","x":18.988,"y":0.512878},{"g":"HAS","x":18.864,"y":0.512884},{"g":"HAS","x":18.843,"y":0.512845},{"g":"HAS","x":18.905,"y":0.51284},{"g":"HAS","x":18.833,"y":0.512905},{"g":"HAS","x":19.173,"y":0.512862},{"g":"HAS","x":19.318,"y":0.512884},{"g":"HAS","x":19.008,"y":0.512905},{"g":"HAS","x":19.091,"y":0.512884},
{"g":"DSF region","x":18.988,"y":0.512987},{"g":"DSF region","x":18.853,"y":0.512946},{"g":"DSF region","x":18.698,"y":0.512923},{"g":"DSF region","x":18.791,"y":0.512884},{"g":"DSF region","x":18.843,"y":0.51287},{"g":"DSF region","x":18.915,"y":0.512862},{"g":"DSF region","x":18.864,"y":0.512919},{"g":"DSF region","x":18.926,"y":0.512933},{"g":"DSF region","x":18.905,"y":0.5129},{"g":"DSF region","x":18.936,"y":0.512903},{"g":"DSF region","x":19.07,"y":0.512911},{"g":"DSF region","x":19.06,"y":0.512889},{"g":"DSF region","x":19.37,"y":0.512933},{"g":"DSF region","x":19.318,"y":0.5129},{"g":"DSF region","x":18.967,"y":0.512889},
{"g":"NE Syria","x":19.008,"y":0.512974},{"g":"NE Syria","x":19.07,"y":0.512961},{"g":"NE Syria","x":18.998,"y":0.512945},{"g":"NE Syria","x":18.967,"y":0.512927},{"g":"NE Syria","x":19.05,"y":0.512916},{"g":"NE Syria","x":18.915,"y":0.512867}
],
"td":[
{"x":17.862,"y":0.513159,"t":"Red Sea","k":"f"},{"x":18.461,"y":0.513161,"t":"Gulf of Aden","k":"f"},{"x":17.81,"y":0.513066,"t":"Afar","k":"f"},{"x":17.81,"y":0.513035,"t":"(high ³He/⁴He lavas)","k":"h"},{"x":19.266,"y":0.513058,"t":"SY-303","k":"s"},{"x":19.607,"y":0.512945,"t":"SY-285","k":"s"},{"x":18.419,"y":0.512917,"t":"P","k":"m"},{"x":18.254,"y":0.512848,"t":"Saudi Arabia","k":"g"},{"x":18.264,"y":0.512813,"t":"Yemen","k":"g"},{"x":19.876,"y":0.512638,"t":"(d)","k":"p"},
{"x":18.037,"y":0.512674,"t":"Upper crust (SA):","k":"n"},{"x":18.037,"y":0.512645,"t":"²⁰⁶Pb/²⁰⁴Pb: 18.0-18.8","k":"n"},{"x":18.037,"y":0.512616,"t":"¹⁴⁴Nd/¹⁴³Nd: <0.5126","k":"n"}
],
"ld":[{"x":19.153,"y":0.513047,"x2":19.05,"y2":0.512993},{"x":19.483,"y":0.512935,"x2":19.328,"y2":0.512897},{"x":18.1,"y":0.51305,"x2":18.8,"y2":0.512987},{"x":18.0,"y":0.512671,"x2":18.0,"y2":0.512612},{"x":18.843,"y":0.512671,"x2":18.843,"y2":0.512612}],
"ad":[{"x":18.81,"y":0.512986,"d":"diag"},{"x":18.0,"y":0.512607,"d":"down"},{"x":18.843,"y":0.512607,"d":"down"}],
"rd":[{"x":18.357,"x2":18.781,"y":0.512905,"y2":0.51293}],
"hd":[{"x":18.977,"y":0.513004,"t":"A"},{"x":19.421,"y":0.512875,"t":"B"}]
},
"resolve":{"scale":{"fill":"independent","shape":"independent","size":"independent"},"legend":{"fill":"independent","shape":"independent"}},
"spacing":13,
"vconcat":[
{"hconcat":[
{"width":467,"height":370,
"encoding":{
"x":{"field":"x","type":"quantitative","title":"⁸⁷Sr/⁸⁶Sr","scale":{"domain":[0.7025,0.7055],"nice":false,"zero":false},"axis":{"values":[0.7025,0.70275,0.703,0.70325,0.7035,0.70375,0.704,0.70425,0.7045,0.70475,0.705,0.70525,0.7055],"labelExpr":"round(datum.value*100000)%50==0 ? format(datum.value,'.4f') : ''"}},
"y":{"field":"y","type":"quantitative","title":"¹⁴³Nd/¹⁴⁴Nd","scale":{"domain":[0.5125,0.5132],"nice":false,"zero":false},"axis":{"values":[0.5125,0.51255,0.5126,0.51265,0.5127,0.51275,0.5128,0.51285,0.5129,0.51295,0.513,0.51305,0.5131,0.51315,0.5132],"labelExpr":"round(datum.value*100000)%10==0 ? format(datum.value,'.4f') : ''"}}
},
"layer":[
{"data":{"name":"pa"},"transform":[{"filter":"datum.f=='CR'"}],"mark":{"type":"line","interpolate":"linear-closed","fill":"#f3f3f3","stroke":"#6e6e6e","strokeWidth":1,"clip":true},"encoding":{"order":{"field":"i","type":"quantitative"}}},
{"data":{"name":"pa"},"transform":[{"filter":"datum.f=='Y'"}],"mark":{"type":"line","interpolate":"cardinal-closed","fill":"#a8a8a8","stroke":"#3c3c3c","strokeWidth":1,"clip":true},"encoding":{"order":{"field":"i","type":"quantitative"}}},
{"data":{"name":"pa"},"transform":[{"filter":"datum.f=='ALM'"}],"mark":{"type":"line","interpolate":"cardinal-closed","fill":"#ececec","stroke":"#8c8c8c","strokeWidth":1,"clip":true},"encoding":{"order":{"field":"i","type":"quantitative"}}},
{"data":{"name":"pa"},"transform":[{"filter":"datum.f=='RS'"}],"mark":{"type":"line","interpolate":"cardinal-closed","fill":{"expr":"hatchLight"},"stroke":"#9a9a9a","strokeWidth":1,"clip":true},"encoding":{"order":{"field":"i","type":"quantitative"}}},
{"data":{"name":"pa"},"transform":[{"filter":"datum.f=='GA'"}],"mark":{"type":"line","interpolate":"cardinal-closed","fill":{"expr":"hatchDark"},"stroke":"#3c3c3c","strokeWidth":1,"clip":true},"encoding":{"order":{"field":"i","type":"quantitative"}}},
{"data":{"name":"pa"},"transform":[{"filter":"datum.f=='AF'"}],"mark":{"type":"line","interpolate":"cardinal-closed","fill":{"expr":"hatchDarker"},"stroke":"#555","strokeWidth":1,"clip":true},"encoding":{"order":{"field":"i","type":"quantitative"}}},
{"data":{"name":"pa"},"transform":[{"filter":"datum.f=='AL'"}],"mark":{"type":"line","interpolate":"cardinal-closed","fill":"#d2d2d2","strokeWidth":0,"clip":true},"encoding":{"order":{"field":"i","type":"quantitative"}}},
{"data":{"name":"la"},"mark":{"type":"rule","stroke":"#222","strokeWidth":1},"encoding":{"x2":{"field":"x2"},"y2":{"field":"y2"}}},
{"data":{"name":"sa"},"mark":{"type":"point","filled":true,"size":180,"stroke":"#222","strokeWidth":1,"opacity":1},"encoding":{
"fill":{"field":"g","type":"nominal","scale":{"domain":["NE Syria","NW Syria","DSF region","HAS"],"range":["#f7941d","#c9a3f2","#7e0c7e","#9ccc1c"]},"legend":null},
"shape":{"field":"g","type":"nominal","scale":{"domain":["NE Syria","NW Syria","DSF region","HAS"],"range":["triangle-up","square","circle","circle"]},"legend":null}}},
{"data":{"name":"ra"},"mark":{"type":"rect","fill":"#f4a96a","opacity":0.55},"encoding":{"x2":{"field":"x2"},"y2":{"field":"y2"}}},
{"data":{"name":"xa"},"mark":{"type":"point","shape":"M0,-1L0.235,-0.324L0.951,-0.309L0.38,0.124L0.588,0.809L0,0.4L-0.588,0.809L-0.38,0.124L-0.951,-0.309L-0.235,-0.324Z","size":1100,"filled":true,"fill":"#ffff4d","stroke":"#c8c800","strokeWidth":1,"opacity":1}},
{"data":{"name":"ha"},"mark":{"type":"point","shape":"M1,0L0.5,0.866L-0.5,0.866L-1,0L-0.5,-0.866L0.5,-0.866Z","size":1850,"filled":false,"stroke":"#111","strokeWidth":3,"opacity":1}},
{"data":{"name":"ha"},"mark":{"type":"text","fontSize":30,"fill":"#f2f2f2","stroke":"#111","strokeWidth":1.3,"align":"center","baseline":"middle","dy":1},"encoding":{"text":{"field":"t"}}},
{"data":{"name":"ta"},"mark":{"type":"text","align":"center","baseline":"middle","color":"#222"},"encoding":{"text":{"field":"t"},"size":{"field":"k","type":"nominal","scale":{"type":"ordinal","domain":["f","g","s","n","p","h","m"],"range":[15,16,12,13,22,11,17]},"legend":null}}}
]},
{"width":481,"height":369,
"encoding":{
"x":{"field":"x","type":"quantitative","title":"²⁰⁶Pb/²⁰⁴Pb","scale":{"domain":[17.5,20],"nice":false,"zero":false},"axis":{"values":[17.5,17.75,18,18.25,18.5,18.75,19,19.25,19.5,19.75,20],"labelExpr":"round(datum.value*100)%50==0 ? format(datum.value,'.2f') : ''"}},
"y":{"field":"y","type":"quantitative","title":"²⁰⁷Pb/²⁰⁴Pb","scale":{"domain":[15.4,15.75],"nice":false,"zero":false},"axis":{"values":[15.4,15.425,15.45,15.475,15.5,15.525,15.55,15.575,15.6,15.625,15.65,15.675,15.7,15.725,15.75],"labelExpr":"round(datum.value*1000)%50==0 ? format(datum.value,'.2f') : ''"}}
},
"layer":[
{"data":{"name":"pb"},"transform":[{"filter":"datum.f=='Y'"}],"mark":{"type":"line","interpolate":"cardinal-closed","fill":"#a8a8a8","stroke":"#3c3c3c","strokeWidth":1,"clip":true},"encoding":{"order":{"field":"i","type":"quantitative"}}},
{"data":{"name":"pb"},"transform":[{"filter":"datum.f=='ALM'"}],"mark":{"type":"line","interpolate":"cardinal-closed","fill":"#ececec","stroke":"#8c8c8c","strokeWidth":1,"clip":true},"encoding":{"order":{"field":"i","type":"quantitative"}}},
{"data":{"name":"pb"},"transform":[{"filter":"datum.f=='AF'"}],"mark":{"type":"line","interpolate":"cardinal-closed","fill":{"expr":"hatchDarker"},"stroke":"#444","strokeWidth":1,"clip":true},"encoding":{"order":{"field":"i","type":"quantitative"}}},
{"data":{"name":"pb"},"transform":[{"filter":"datum.f=='GA'"}],"mark":{"type":"line","interpolate":"cardinal-closed","fill":{"expr":"hatchDark"},"stroke":"#3c3c3c","strokeWidth":1,"clip":true},"encoding":{"order":{"field":"i","type":"quantitative"}}},
{"data":{"name":"pb"},"transform":[{"filter":"datum.f=='RS'"}],"mark":{"type":"line","interpolate":"cardinal-closed","fill":{"expr":"hatchLight"},"stroke":"#8a8a8a","strokeWidth":1,"clip":true},"encoding":{"order":{"field":"i","type":"quantitative"}}},
{"data":{"name":"lb"},"mark":{"type":"rule","stroke":"#222","strokeWidth":1},"encoding":{"x2":{"field":"x2"},"y2":{"field":"y2"}}},
{"data":{"name":"sb"},"mark":{"type":"point","filled":true,"size":180,"stroke":"#222","strokeWidth":1,"opacity":1},"encoding":{
"fill":{"field":"g","type":"nominal","scale":{"domain":["NE Syria","NW Syria","DSF region","HAS"],"range":["#f7941d","#c9a3f2","#7e0c7e","#9ccc1c"]},"legend":null},
"shape":{"field":"g","type":"nominal","scale":{"domain":["NE Syria","NW Syria","DSF region","HAS"],"range":["triangle-up","square","circle","circle"]},"legend":null}}},
{"data":{"name":"hb"},"mark":{"type":"point","shape":"M1,0L0.5,0.866L-0.5,0.866L-1,0L-0.5,-0.866L0.5,-0.866Z","size":1850,"filled":false,"stroke":"#111","strokeWidth":3,"opacity":1}},
{"data":{"name":"hb"},"mark":{"type":"text","fontSize":30,"fill":"#f2f2f2","stroke":"#111","strokeWidth":1.3,"align":"center","baseline":"middle","dy":1},"encoding":{"text":{"field":"t"}}},
{"data":{"name":"tb"},"mark":{"type":"text","align":"center","baseline":"middle","color":"#222"},"encoding":{"text":{"field":"t"},"size":{"field":"k","type":"nominal","scale":{"type":"ordinal","domain":["f","g","s","n","p","h","m"],"range":[15,16,12,13,22,11,17]},"legend":null}}}
]}
],"spacing":108,"bounds":"flush","resolve":{"scale":{"fill":"independent","shape":"independent","size":"independent"},"legend":{"fill":"independent","shape":"independent"}}},
{"hconcat":[
{"width":469,"height":365,
"encoding":{
"x":{"field":"x","type":"quantitative","title":"²⁰⁶Pb/²⁰⁴Pb","scale":{"domain":[17.5,20],"nice":false,"zero":false},"axis":{"values":[17.5,17.75,18,18.25,18.5,18.75,19,19.25,19.5,19.75,20],"labelExpr":"round(datum.value*100)%50==0 ? format(datum.value,'.2f') : ''"}},
"y":{"field":"y","type":"quantitative","title":"⁸⁷Sr/⁸⁶Sr","scale":{"domain":[0.7025,0.7055],"nice":false,"zero":false},"axis":{"values":[0.7025,0.70275,0.703,0.70325,0.7035,0.70375,0.704,0.70425,0.7045,0.70475,0.705,0.70525,0.7055],"labelExpr":"round(datum.value*100000)%50==0 ? format(datum.value,'.4f') : ''"}}
},
"layer":[
{"data":{"name":"pc"},"transform":[{"filter":"datum.f=='Y'"}],"mark":{"type":"line","interpolate":"cardinal-closed","fill":"#a8a8a8","stroke":"#3c3c3c","strokeWidth":1,"clip":true},"encoding":{"order":{"field":"i","type":"quantitative"}}},
{"data":{"name":"pc"},"transform":[{"filter":"datum.f=='AL'"}],"mark":{"type":"line","interpolate":"cardinal-closed","fill":"#c8c8c8","strokeWidth":0,"clip":true},"encoding":{"order":{"field":"i","type":"quantitative"}}},
{"data":{"name":"pc"},"transform":[{"filter":"datum.f=='GA'"}],"mark":{"type":"line","interpolate":"cardinal-closed","fill":{"expr":"hatchDark"},"stroke":"#3c3c3c","strokeWidth":1,"clip":true},"encoding":{"order":{"field":"i","type":"quantitative"}}},
{"data":{"name":"pc"},"transform":[{"filter":"datum.f=='RS'"}],"mark":{"type":"line","interpolate":"cardinal-closed","fill":{"expr":"hatchLight"},"stroke":"#8a8a8a","strokeWidth":1,"clip":true},"encoding":{"order":{"field":"i","type":"quantitative"}}},
{"data":{"name":"rc"},"mark":{"type":"rect","fill":"#f4a96a","opacity":0.55},"encoding":{"x2":{"field":"x2"},"y2":{"field":"y2"}}},
{"data":{"name":"lc"},"mark":{"type":"rule","stroke":"#222","strokeWidth":1},"encoding":{"x2":{"field":"x2"},"y2":{"field":"y2"}}},
{"data":{"name":"ac"},"transform":[{"filter":"datum.d=='up'"}],"mark":{"type":"point","shape":"triangle-up","size":60,"filled":true,"fill":"#222","strokeWidth":0,"opacity":1}},
{"data":{"name":"ac"},"transform":[{"filter":"datum.d=='right'"}],"mark":{"type":"point","shape":"triangle-right","size":60,"filled":true,"fill":"#222","strokeWidth":0,"opacity":1}},
{"data":{"name":"sc"},"mark":{"type":"point","filled":true,"size":180,"stroke":"#222","strokeWidth":1,"opacity":1},"encoding":{
"fill":{"field":"g","type":"nominal","scale":{"domain":["NE Syria","NW Syria","DSF region","HAS"],"range":["#f7941d","#c9a3f2","#7e0c7e","#9ccc1c"]},"legend":{"title":null,"orient":"top-right","offset":0,"padding":6,"fillColor":"white","strokeColor":"#111","labelFontSize":18,"labelColor":"#111","symbolSize":180,"symbolStrokeColor":"#222","symbolStrokeWidth":1,"rowPadding":3,"symbolOpacity":1}},
"shape":{"field":"g","type":"nominal","scale":{"domain":["NE Syria","NW Syria","DSF region","HAS"],"range":["triangle-up","square","circle","circle"]},"legend":{"title":null,"orient":"top-right","offset":0,"padding":6,"fillColor":"white","strokeColor":"#111","labelFontSize":18,"labelColor":"#111","symbolSize":180,"symbolStrokeColor":"#222","symbolStrokeWidth":1,"rowPadding":3,"symbolOpacity":1}}}},
{"data":{"name":"cc"},"mark":{"type":"line","interpolate":"cardinal","stroke":"#111","strokeWidth":2.5,"clip":true},"encoding":{"order":{"field":"i","type":"quantitative"}}},
{"data":{"name":"ct"},"mark":{"type":"tick","orient":"horizontal","size":14,"thickness":2,"color":"#111","opacity":1}},
{"data":{"name":"hc"},"mark":{"type":"point","shape":"M1,0L0.5,0.866L-0.5,0.866L-1,0L-0.5,-0.866L0.5,-0.866Z","size":1850,"filled":false,"stroke":"#111","strokeWidth":3,"opacity":1}},
{"data":{"name":"hc"},"mark":{"type":"text","fontSize":30,"fill":"#f2f2f2","stroke":"#111","strokeWidth":1.3,"align":"center","baseline":"middle","dy":1},"encoding":{"text":{"field":"t"}}},
{"data":{"name":"tc"},"transform":[{"filter":"datum.k!='n'"}],"mark":{"type":"text","align":"center","baseline":"middle","color":"#222"},"encoding":{"text":{"field":"t"},"size":{"field":"k","type":"nominal","scale":{"type":"ordinal","domain":["f","g","s","n","p","h","m"],"range":[15,16,12,13,22,11,17]},"legend":null}}},
{"data":{"name":"tc"},"transform":[{"filter":"datum.k=='n'"}],"mark":{"type":"text","align":"left","baseline":"middle","color":"#222"},"encoding":{"text":{"field":"t"},"size":{"field":"k","type":"nominal","scale":{"type":"ordinal","domain":["f","g","s","n","p","h","m"],"range":[15,16,12,13,22,11,17]},"legend":null}}}
]},
{"width":465,"height":367,
"encoding":{
"x":{"field":"x","type":"quantitative","title":"²⁰⁶Pb/²⁰⁴Pb","scale":{"domain":[17.5,20],"nice":false,"zero":false},"axis":{"values":[17.5,17.75,18,18.25,18.5,18.75,19,19.25,19.5,19.75,20],"labelExpr":"round(datum.value*100)%50==0 ? format(datum.value,'.2f') : ''"}},
"y":{"field":"y","type":"quantitative","title":"¹⁴³Nd/¹⁴⁴Nd","scale":{"domain":[0.5126,0.5132],"nice":false,"zero":false},"axis":{"values":[0.5126,0.51265,0.5127,0.51275,0.5128,0.51285,0.5129,0.51295,0.513,0.51305,0.5131,0.51315,0.5132],"labelExpr":"round(datum.value*100000)%10==0 ? format(datum.value,'.4f') : ''"}}
},
"layer":[
{"data":{"name":"pd"},"transform":[{"filter":"datum.f=='Y'"}],"mark":{"type":"line","interpolate":"cardinal-closed","fill":"#a8a8a8","stroke":"#3c3c3c","strokeWidth":1,"clip":true},"encoding":{"order":{"field":"i","type":"quantitative"}}},
{"data":{"name":"pd"},"transform":[{"filter":"datum.f=='GA'"}],"mark":{"type":"line","interpolate":"cardinal-closed","fill":{"expr":"hatchDark"},"stroke":"#3c3c3c","strokeWidth":1,"clip":true},"encoding":{"order":{"field":"i","type":"quantitative"}}},
{"data":{"name":"pd"},"transform":[{"filter":"datum.f=='RS'"}],"mark":{"type":"line","interpolate":"cardinal-closed","fill":{"expr":"hatchLight"},"stroke":"#8a8a8a","strokeWidth":1,"clip":true},"encoding":{"order":{"field":"i","type":"quantitative"}}},
{"data":{"name":"pd"},"transform":[{"filter":"datum.f=='AF'"}],"mark":{"type":"line","interpolate":"cardinal-closed","fill":{"expr":"hatchDarker"},"stroke":"#444","strokeWidth":1,"clip":true},"encoding":{"order":{"field":"i","type":"quantitative"}}},
{"data":{"name":"rd"},"mark":{"type":"rect","fill":"#f4a96a","opacity":0.55},"encoding":{"x2":{"field":"x2"},"y2":{"field":"y2"}}},
{"data":{"name":"ld"},"mark":{"type":"rule","stroke":"#222","strokeWidth":1},"encoding":{"x2":{"field":"x2"},"y2":{"field":"y2"}}},
{"data":{"name":"ad"},"transform":[{"filter":"datum.d=='diag'"}],"mark":{"type":"point","shape":"triangle-right","angle":17,"size":60,"filled":true,"fill":"#222","strokeWidth":0,"opacity":1}},
{"data":{"name":"ad"},"transform":[{"filter":"datum.d=='down'"}],"mark":{"type":"point","shape":"triangle-down","size":60,"filled":true,"fill":"#222","strokeWidth":0,"opacity":1}},
{"data":{"name":"sd"},"mark":{"type":"point","filled":true,"size":180,"stroke":"#222","strokeWidth":1,"opacity":1},"encoding":{
"fill":{"field":"g","type":"nominal","scale":{"domain":["NE Syria","NW Syria","DSF region","HAS"],"range":["#f7941d","#c9a3f2","#7e0c7e","#9ccc1c"]},"legend":null},
"shape":{"field":"g","type":"nominal","scale":{"domain":["NE Syria","NW Syria","DSF region","HAS"],"range":["triangle-up","square","circle","circle"]},"legend":null}}},
{"data":{"name":"hd"},"mark":{"type":"point","shape":"M1,0L0.5,0.866L-0.5,0.866L-1,0L-0.5,-0.866L0.5,-0.866Z","size":1850,"filled":false,"stroke":"#111","strokeWidth":3,"opacity":1}},
{"data":{"name":"hd"},"mark":{"type":"text","fontSize":30,"fill":"#f2f2f2","stroke":"#111","strokeWidth":1.3,"align":"center","baseline":"middle","dy":1},"encoding":{"text":{"field":"t"}}},
{"data":{"name":"td"},"transform":[{"filter":"datum.k!='n'"}],"mark":{"type":"text","align":"center","baseline":"middle","color":"#222"},"encoding":{"text":{"field":"t"},"size":{"field":"k","type":"nominal","scale":{"type":"ordinal","domain":["f","g","s","n","p","h","m"],"range":[15,16,12,13,22,11,17]},"legend":null}}},
{"data":{"name":"td"},"transform":[{"filter":"datum.k=='n'"}],"mark":{"type":"text","align":"left","baseline":"middle","color":"#222"},"encoding":{"text":{"field":"t"},"size":{"field":"k","type":"nominal","scale":{"type":"ordinal","domain":["f","g","s","n","p","h","m"],"range":[15,16,12,13,22,11,17]},"legend":null}}}
]}
],"spacing":116,"bounds":"flush","resolve":{"scale":{"fill":"independent","shape":"independent","size":"independent"},"legend":{"fill":"independent","shape":"independent"}}}
]
}
